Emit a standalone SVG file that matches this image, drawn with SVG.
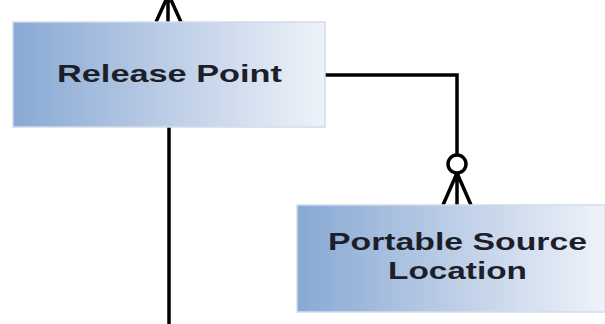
<svg xmlns="http://www.w3.org/2000/svg" width="605" height="324" viewBox="0 0 605 324">
<defs>
<linearGradient id="g" x1="0" y1="0" x2="1" y2="0">
<stop offset="0" stop-color="#88a9d4"/>
<stop offset="0.5" stop-color="#bccde6"/>
<stop offset="1" stop-color="#eef2f9"/>
</linearGradient>
<style>
.box{fill:url(#g);stroke:#d4dcea;stroke-width:1.5}
.lbl{font-family:"Liberation Sans",Arial,sans-serif;font-weight:bold;font-size:24px;fill:#1c1f2a;text-anchor:middle}
.ln{fill:none;stroke:#000;stroke-width:3.5;stroke-linecap:butt}
</style>
</defs>
<rect width="605" height="324" fill="#fff"/>
<g id="connectors">
<path class="ln" d="M156,22 L166,0 M168,0 L168,22 M181,22 L171,0"/>
<path class="ln" d="M169,127 L169,324"/>
<path class="ln" d="M325,75 L457,75 L457,155"/>
<circle class="ln" cx="457" cy="164" r="9"/>
<path class="ln" d="M457,173 L443,205 M457,173 L457,205 M457,173 L471,205"/>
</g>
<g id="release-point">
<rect class="box" x="13" y="22" width="312" height="105"/>
<text class="lbl" x="169.5" y="82" textLength="225" lengthAdjust="spacingAndGlyphs">Release Point</text>
</g>
<g id="portable-source-location">
<rect class="box" x="297" y="205" width="308" height="107"/>
<text class="lbl" x="457.5" y="250" textLength="259" lengthAdjust="spacingAndGlyphs">Portable Source</text>
<text class="lbl" x="457.5" y="279" textLength="139" lengthAdjust="spacingAndGlyphs">Location</text>
</g>
</svg>
